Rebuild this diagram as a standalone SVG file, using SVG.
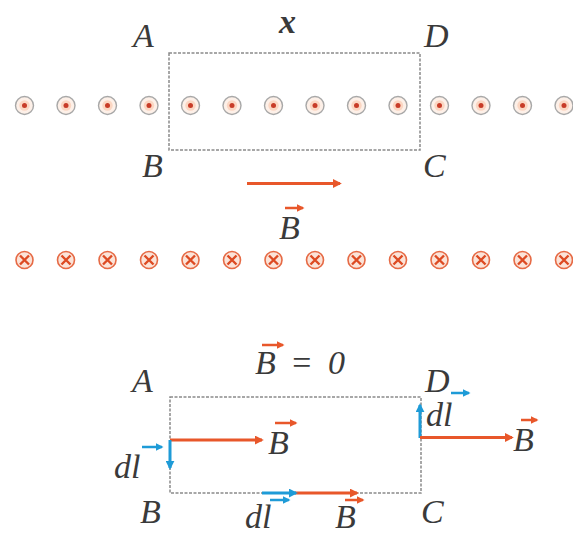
<svg xmlns="http://www.w3.org/2000/svg" width="573" height="536" viewBox="0 0 573 536">
<style>
.lbl{font-family:"Liberation Serif","Times New Roman",serif;font-style:italic;font-size:34px;fill:#3a3a3a}
.box{fill:none;stroke:#8a8a8a;stroke-width:1.5;stroke-dasharray:3 1.5}
.red{stroke:#e8572a;stroke-width:3;fill:none}
.blue{stroke:#1e9bd7;stroke-width:3;fill:none}
.vr{stroke:#e8572a;stroke-width:2.5;fill:none}
.vb{stroke:#1e9bd7;stroke-width:2.5;fill:none}
</style>
<defs>
<marker id="ar" viewBox="0 0 10 10" refX="8" refY="5" markerWidth="3" markerHeight="3" orient="auto"><path d="M0,0 L10,5 L0,10 z" fill="#e8572a"/></marker>
<marker id="ab" viewBox="0 0 10 10" refX="8" refY="5" markerWidth="3" markerHeight="3" orient="auto"><path d="M0,0 L10,5 L0,10 z" fill="#1e9bd7"/></marker>
<g id="dot"><circle r="9" fill="#fdf0e8" stroke="#a8a8a8" stroke-width="1.4"/><circle r="5.2" fill="#fbd6c2"/><circle r="2.5" fill="#c83c28"/></g>
<g id="cross"><circle r="8.5" fill="#fbe3d8" stroke="#e66a45" stroke-width="1.6"/><path d="M-4.5,-4.5 L4.5,4.5 M4.5,-4.5 L-4.5,4.5" stroke="#dd4a22" stroke-width="2.4"/></g>
</defs>

<g id="top-loop">
<rect class="box" x="169" y="53" width="251" height="97"/>
<text class="lbl" x="133" y="47">A</text>
<text class="lbl" x="424" y="47">D</text>
<text class="lbl" x="142" y="177">B</text>
<text class="lbl" x="423" y="177">C</text>
<text class="lbl" x="279" y="33" font-weight="bold" font-size="27">x</text>
</g>

<g id="dots-out">
<use href="#dot" x="24.5" y="105.5"/><use href="#dot" x="66" y="105.5"/><use href="#dot" x="107.5" y="105.5"/><use href="#dot" x="149" y="105.5"/><use href="#dot" x="190.5" y="105.5"/><use href="#dot" x="232" y="105.5"/><use href="#dot" x="273.5" y="105.5"/><use href="#dot" x="315" y="105.5"/><use href="#dot" x="356.5" y="105.5"/><use href="#dot" x="398" y="105.5"/><use href="#dot" x="439.5" y="105.5"/><use href="#dot" x="481" y="105.5"/><use href="#dot" x="522.5" y="105.5"/><use href="#dot" x="564" y="105.5"/>
</g>

<g id="dots-in">
<use href="#cross" x="24.5" y="260"/><use href="#cross" x="66" y="260"/><use href="#cross" x="107.5" y="260"/><use href="#cross" x="149" y="260"/><use href="#cross" x="190.5" y="260"/><use href="#cross" x="232" y="260"/><use href="#cross" x="273.5" y="260"/><use href="#cross" x="315" y="260"/><use href="#cross" x="356.5" y="260"/><use href="#cross" x="398" y="260"/><use href="#cross" x="439.5" y="260"/><use href="#cross" x="481" y="260"/><use href="#cross" x="522.5" y="260"/><use href="#cross" x="564" y="260"/>
</g>

<g id="top-B">
<text class="lbl" x="279" y="239">B</text>
<path class="vr" d="M285,208 H303" marker-end="url(#ar)"/>
</g>

<g id="bottom-loop">
<rect class="box" x="170" y="397" width="251" height="96"/>
<text class="lbl" x="132" y="392">A</text>
<text class="lbl" x="425" y="392">D</text>
<text class="lbl" x="140" y="523">B</text>
<text class="lbl" x="421" y="523">C</text>
<text class="lbl" x="255" y="374">B</text>
<text class="lbl" x="290" y="374" font-style="normal">=</text>
<text class="lbl" x="328" y="374">0</text>
<path class="vr" d="M262,345 H283" marker-end="url(#ar)"/>
</g>

<g id="labels-bottom">
<text class="lbl" x="268" y="454">B</text>
<path class="vr" d="M275,423 H296" marker-end="url(#ar)"/>
<text class="lbl" x="114" y="478">dl</text>
<path class="vb" d="M142,447 H162" marker-end="url(#ab)"/>
<text class="lbl" x="426" y="426">dl</text>
<path class="vb" d="M451,393 H469" marker-end="url(#ab)"/>
<text class="lbl" x="513" y="451">B</text>
<path class="vr" d="M521,420 H537" marker-end="url(#ar)"/>
<text class="lbl" x="245" y="528">dl</text>
<path class="vb" d="M270,500 H289" marker-end="url(#ab)"/>
<text class="lbl" x="335" y="528">B</text>
<path class="vr" d="M345,500 H363" marker-end="url(#ar)"/>
</g>

<g id="connectors">
<path class="red" d="M247,183.5 H340" marker-end="url(#ar)"/>
<path class="red" d="M170,440 H262" marker-end="url(#ar)"/>
<path class="blue" d="M170,440 V468" marker-end="url(#ab)"/>
<path class="red" d="M295,493 H357" marker-end="url(#ar)"/>
<path class="blue" d="M262,493 H296" marker-end="url(#ab)"/>
<path class="blue" d="M420,438 V405" marker-end="url(#ab)"/>
<path class="red" d="M420,437.5 H512" marker-end="url(#ar)"/>
</g>
</svg>
